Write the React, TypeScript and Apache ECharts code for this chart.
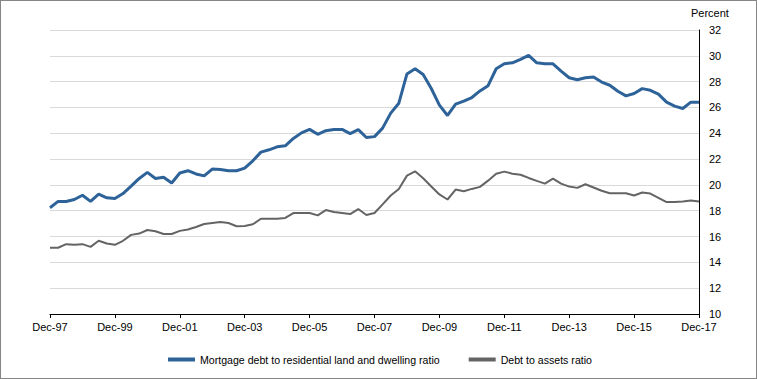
import React, { useEffect, useRef } from "react";
import * as echarts from "echarts";

const months = ["Mar", "Jun", "Sep", "Dec"];
const categories: string[] = [];
for (let i = 0; i <= 80; i++) {
  const q = (i + 3) % 4;
  const yr = 1997 + Math.floor((i + 3) / 4);
  categories.push(months[q] + "-" + String(yr % 100).padStart(2, "0"));
}

const mortgageRatio = [
  18.23, 18.72, 18.72, 18.87, 19.2, 18.72, 19.28, 19.0, 18.95, 19.33,
  19.9, 20.5, 20.97, 20.5, 20.6, 20.15, 20.92, 21.1, 20.85, 20.7,
  21.23, 21.2, 21.1, 21.1, 21.3, 21.87, 22.54, 22.72, 22.95, 23.03,
  23.6, 24.03, 24.3, 23.92, 24.2, 24.3, 24.3, 23.97, 24.28, 23.67,
  23.74, 24.4, 25.56, 26.33, 28.6, 29.0, 28.55, 27.47, 26.18, 25.38,
  26.26, 26.49, 26.77, 27.28, 27.69, 29.0, 29.38, 29.46, 29.72, 30.03,
  29.46, 29.38, 29.38, 28.82, 28.3, 28.15, 28.3, 28.36, 27.97, 27.72,
  27.26, 26.9, 27.08, 27.46, 27.33, 27.03, 26.41, 26.1, 25.92, 26.41,
  26.41,
];

const debtToAssets = [
  15.13, 15.13, 15.41, 15.36, 15.41, 15.2, 15.67, 15.46, 15.36, 15.67,
  16.13, 16.23, 16.51, 16.41, 16.2, 16.2, 16.44, 16.54, 16.74, 16.97,
  17.05, 17.13, 17.05, 16.8, 16.82, 16.95, 17.38, 17.38, 17.38, 17.44,
  17.82, 17.82, 17.82, 17.64, 18.05, 17.9, 17.82, 17.74, 18.13, 17.67,
  17.82, 18.49, 19.18, 19.69, 20.72, 21.05, 20.52, 19.88, 19.26, 18.87,
  19.64, 19.51, 19.69, 19.85, 20.33, 20.87, 21.03, 20.87, 20.79, 20.54,
  20.31, 20.1, 20.49, 20.1, 19.87, 19.77, 20.05, 19.8, 19.55, 19.36,
  19.36, 19.36, 19.18, 19.41, 19.33, 19.0, 18.67, 18.67, 18.72, 18.79,
  18.72,
];

const seriesNames = [
  "Mortgage debt to residential land and dwelling ratio",
  "Debt to assets ratio",
];
const yUnit = "Percent";

const FONT = "'Liberation Sans', Arial, sans-serif";

export default function App() {
  const ref = useRef<HTMLDivElement>(null);
  useEffect(() => {
    if (!ref.current) return;
    const chart = echarts.init(ref.current, null, { renderer: "svg" });
    chart.setOption({
      animation: false,
      backgroundColor: "#ffffff",
      textStyle: { fontFamily: FONT },
      grid: {
        left: 50,
        right: 58,
        top: 30,
        bottom: 65,
        containLabel: false,
        outerBoundsMode: "none",
      },
      graphic: [
        {
          type: "text",
          left: 691,
          top: 7,
          style: { text: yUnit, font: `11px ${FONT}`, fill: "#000" },
        },
      ],
      legend: {
        left: 168,
        top: 354,
        padding: 0,
        icon: "rect",
        itemWidth: 27,
        itemHeight: 4,
        itemGap: 29,
        textStyle: { fontSize: 10.6, color: "#000", fontFamily: FONT },
        data: seriesNames,
      },
      xAxis: {
        type: "category",
        data: categories,
        boundaryGap: false,
        axisLine: { lineStyle: { color: "#000", width: 1 } },
        axisTick: { interval: 7, length: 4, lineStyle: { color: "#000" } },
        axisLabel: {
          interval: 7,
          margin: 7,
          fontSize: 11,
          color: "#000",
          fontFamily: FONT,
        },
        splitLine: { show: false },
      },
      yAxis: {
        type: "value",
        position: "right",
        min: 10,
        max: 32,
        interval: 2,
        axisLine: { show: true, lineStyle: { color: "#000", width: 1 } },
        axisTick: { show: false },
        axisLabel: { margin: 10, fontSize: 11, color: "#000", fontFamily: FONT },
        splitLine: { lineStyle: { color: "#d9d9d9", width: 1 } },
      },
      series: [
        {
          name: seriesNames[0],
          type: "line",
          data: mortgageRatio,
          symbol: "none",
          lineStyle: { color: "#2e6399", width: 3 },
          itemStyle: { color: "#2e6399" },
        },
        {
          name: seriesNames[1],
          type: "line",
          data: debtToAssets,
          symbol: "none",
          lineStyle: { color: "#646464", width: 2 },
          itemStyle: { color: "#646464" },
        },
      ],
    });
    return () => chart.dispose();
  }, []);

  return (
    <div
      style={{
        position: "fixed",
        left: 0,
        top: 0,
        width: 757,
        height: 379,
        background: "#fff",
      }}
    >
      <div ref={ref} style={{ width: 757, height: 379 }} />
      <div
        style={{
          position: "absolute",
          left: 0,
          top: 0,
          width: 757,
          height: 379,
          boxSizing: "border-box",
          border: "1px solid #868686",
          pointerEvents: "none",
        }}
      />
    </div>
  );
}
